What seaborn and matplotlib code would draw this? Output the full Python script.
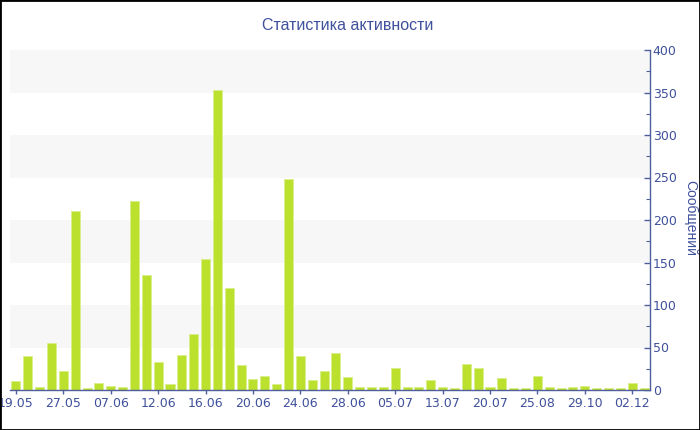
import pandas as pd
import matplotlib
import matplotlib.pyplot as plt
import seaborn as sns
from matplotlib.ticker import MultipleLocator

matplotlib.use('Agg')

# данные
messages = [11, 40, 3, 55, 22, 211, 2, 8, 5, 3,
            222, 135, 33, 7, 41, 66, 154, 353, 120, 29,
            13, 16, 7, 248, 40, 12, 22, 43, 15, 4,
            3, 3, 26, 3, 3, 12, 3, 2, 31, 26,
            3, 14, 2, 2, 17, 4, 2, 4, 5, 2,
            2, 2, 8, 2]
tick_labels = ["19.05", "27.05", "07.06", "12.06", "16.06", "20.06", "24.06",
               "28.06", "05.07", "13.07", "20.07", "25.08", "29.10", "02.12"]
tick_step = 4
title = "Статистика активности"
ylabel = "Сообщений"

text_color = "#3f509c"
axis_color = "#4d5f9c"
bar_color = "#bce02e"

df = pd.DataFrame({"day": list(range(len(messages))), "count": messages})

sns.set_theme(style="white")
plt.rcParams['font.family'] = ['DejaVu Sans']

fig = plt.figure(figsize=(7, 4.3), dpi=100)
ax = fig.add_axes([10 / 700, 40 / 430, 640 / 700, 340 / 430])

# чередующиеся полосы фона
for lo in range(50, 400, 100):
    ax.axhspan(lo, lo + 50, color="#f7f7f7", zorder=0, lw=0)

sns.barplot(data=df, x="day", y="count", color=bar_color, width=0.76,
            edgecolor="#d8ef8a", linewidth=0.6, saturation=1, ax=ax, zorder=2)

ax.set_xlim(-0.5, len(messages) - 0.5)
ax.set_ylim(0, 400)
ax.set_xticks(range(0, len(messages), tick_step))
ax.set_xticklabels(tick_labels)
ax.set_xlabel("")
ax.set_ylabel("")

ax.yaxis.tick_right()
ax.yaxis.set_major_locator(MultipleLocator(50))
ax.yaxis.set_minor_locator(MultipleLocator(25))

for s in ["top", "left"]:
    ax.spines[s].set_visible(False)
for s in ["right", "bottom"]:
    ax.spines[s].set_color(axis_color)
    ax.spines[s].set_linewidth(1)

ax.tick_params(axis="x", which="major", direction="out", length=3, width=1,
               color=axis_color, labelcolor=text_color, labelsize=9, pad=2,
               bottom=True)
ax.tick_params(axis="y", which="major", direction="in", length=4, width=1,
               color=axis_color, labelcolor=text_color, labelsize=9, pad=2,
               right=True, left=False)
ax.tick_params(axis="y", which="minor", direction="in", length=3, width=0.8,
               color=axis_color, right=True, left=False)

fig.text(0.497, 1 - 25 / 430, title, ha="center", va="center",
         color=text_color, fontsize=11.5, family=["Liberation Sans", "DejaVu Sans"])
fig.text(690 / 700, 1 - 218 / 430, ylabel, ha="center", va="center", rotation=270,
         color=text_color, fontsize=10, family=["Liberation Sans", "DejaVu Sans"])

# рамка вокруг рисунка
fig.patches.append(plt.Rectangle((0, 0), 1, 1, transform=fig.transFigure,
                                 fill=False, edgecolor="black", linewidth=2))

fig.savefig("out.png", dpi=100)
